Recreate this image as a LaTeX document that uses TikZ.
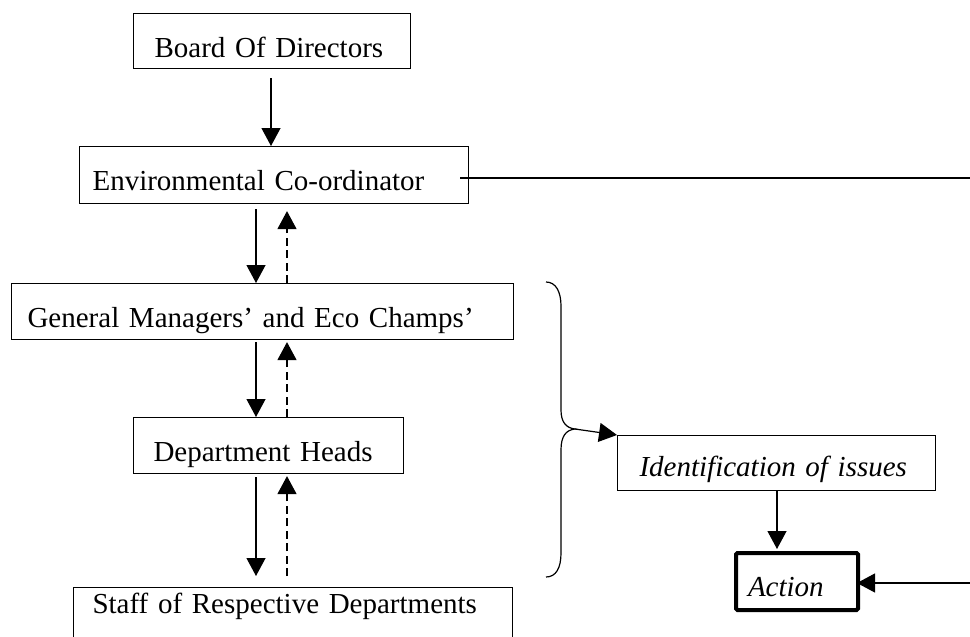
\documentclass[tikz,border=0pt]{standalone}
\usepackage{fontspec}
\setmainfont{Liberation Serif}
\usetikzlibrary{arrows.meta,calc}

\tikzset{
  box/.style={draw, line width=1.1pt, anchor=north west, inner ysep=0pt,
    align=left, font=\fontsize{29pt}{34pt}\selectfont},
  arr/.style={line width=1.2pt, -{Triangle[length=18pt,width=19pt]}},
  arrdash/.style={arr, dash pattern=on 8pt off 4.5pt},
  plain/.style={line width=1.2pt},
}

\begin{document}
\begin{tikzpicture}[x=1pt, y=-1pt]
  \clip (0,0) rectangle (970,637);

  % chain of responsibility
  \node[box, inner xsep=21pt, text width=235pt, text height=44pt, text depth=11pt]
    (board) at (133,13) {Board Of Directors};
  \node[box, inner xsep=13pt, text width=363pt, text height=44pt, text depth=13pt]
    (env) at (79,146) {Environmental Co-ordinator};
  \node[box, inner xsep=16pt, text width=470pt, text height=44pt, text depth=12pt]
    (gm) at (11,283) {General Managers’ and Eco Champs’};
  \node[box, inner xsep=20pt, text width=230pt, text height=44pt, text depth=12pt]
    (dh) at (133,417) {Department Heads};
  \node[box, inner xsep=19pt, text width=401pt, text height=26pt, text depth=47pt]
    (staff) at (73,587) {Staff of Respective Departments};

  % outcome boxes
  \node[box, inner xsep=22pt, text width=274pt, text height=41pt, text depth=14pt,
    font=\fontsize{29pt}{34pt}\selectfont\itshape]
    (ident) at (617,435) {Identification of issues};
  \node[box, line width=4pt, rounded corners=1.5pt, inner xsep=12pt, text width=98pt,
    text height=43pt, text depth=14pt, font=\fontsize{29pt}{34pt}\selectfont\itshape]
    (action) at (734,551) {Action};

  % downward (solid) and upward (dashed) flows
  \draw[arr] ($(board.south west)+(138,9)$) -- ($(env.north west)+(192,0)$);
  \draw[arr] ($(env.south west)+(177,5)$) -- ($(gm.north west)+(245,0)$);
  \draw[arrdash] ($(gm.north west)+(276,0)$) -- ($(env.south west)+(208,7)$);
  \draw[arr] ($(gm.south west)+(245,2)$) -- ($(dh.north west)+(123,0)$);
  \draw[arrdash] ($(dh.north west)+(154,0)$) -- ($(gm.south west)+(276,2)$);
  \draw[arr] ($(dh.south west)+(123,3)$) -- ($(staff.north west)+(183,-11)$);
  \draw[arrdash] ($(staff.north west)+(214,-11)$) -- ($(dh.south west)+(154,2)$);

  % brace grouping the three lower levels
  \coordinate (bt) at (575,429);
  \draw[plain] (546,282) .. controls (556,282) and (561,292) .. (561,306)
    -- (561,410) .. controls (561,422) and (566,428) .. (bt)
    .. controls (566,430) and (561,436) .. (561,450)
    -- (561,553) .. controls (561,568) and (556,577) .. (546,577);
  \draw[arr] (bt) -- (ident.north west);

  \draw[arr] ($(ident.south west)+(160,0)$) -- ($(action.north west)+(43,-2)$);

  % feedback line from the co-ordinator to action
  \coordinate (eR) at (975,178);
  \coordinate (aR) at (975,583);
  \draw[plain] ($(env.north east)+(-9,32)$) -- (eR);
  \draw[arr] (aR) -- ($(action.north east)+(-3,32)$);
\end{tikzpicture}
\end{document}
